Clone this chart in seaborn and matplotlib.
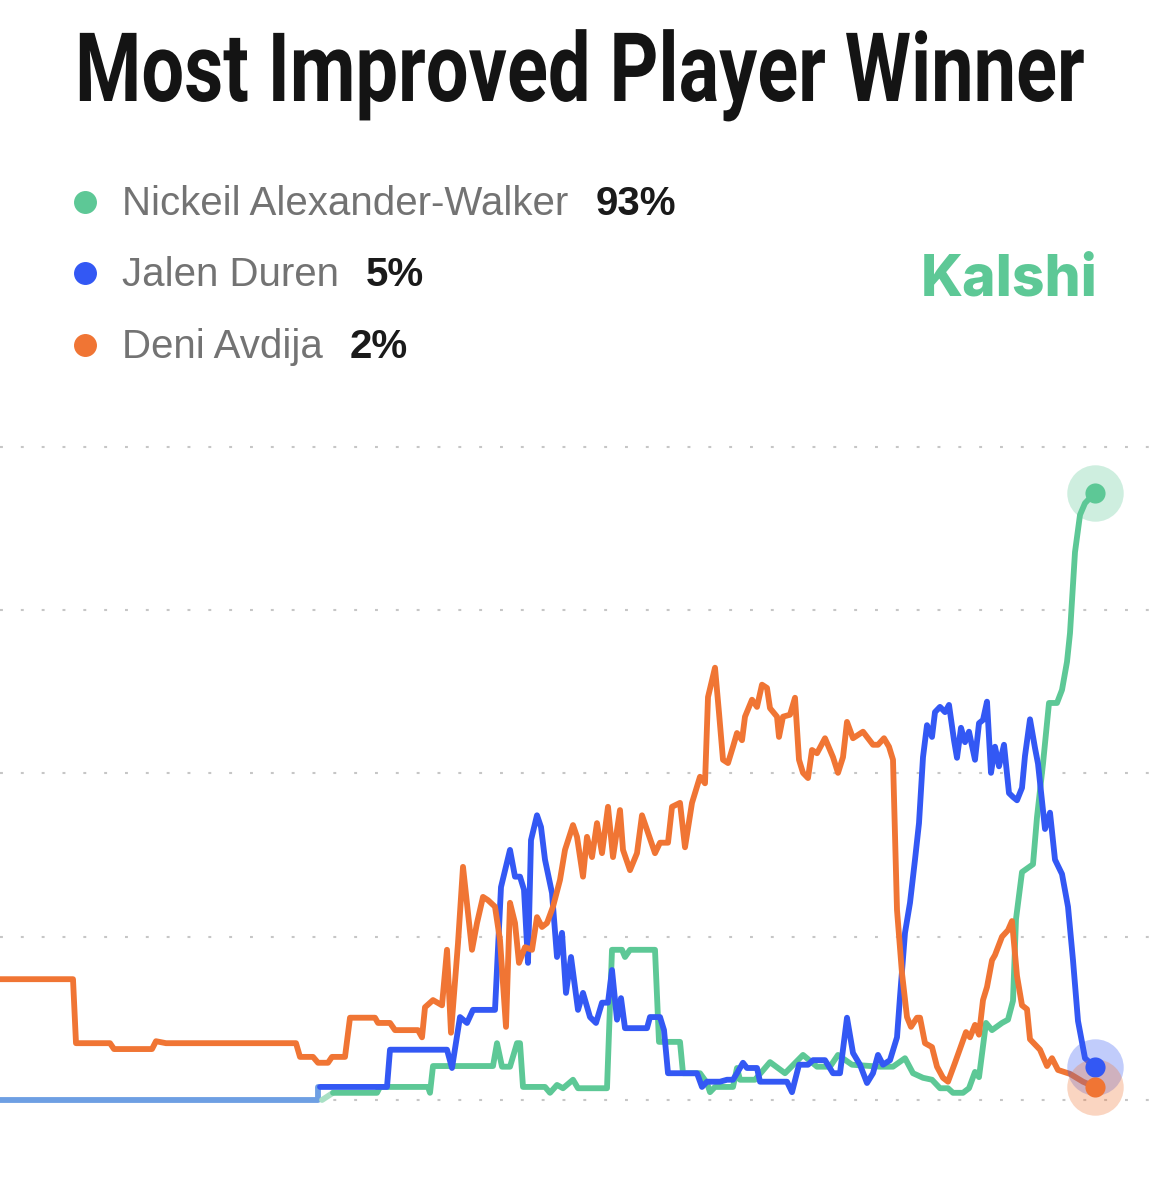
import matplotlib
matplotlib.use("Agg")
import matplotlib.pyplot as plt
import matplotlib.patheffects as pe
from matplotlib.transforms import Affine2D
import seaborn as sns
import numpy as np
import pandas as pd

# Market chart data (t = time index, values = chance in %)
players = ['Nickeil Alexander-Walker', 'Jalen Duren', 'Deni Avdija']
current_pct = ['93%', '5%', '2%']

COLORS = {
    'Nickeil Alexander-Walker': '#5DC896',
    'Jalen Duren': '#3358F4',
    'Deni Avdija': '#F07534',
}
PRE_COLOR = '#6E9FE3'
PRE_GREEN = '#A8E0C4'

# faint segment before the other two markets were listed
pre_t = [0, 63.6, 63.6]
pre_v = [0, 0, 2.0]
pre_green_t = [64.4, 66.6]
pre_green_v = [0, 1.1]

avdija_t = [0, 14.6, 15.2, 22.0, 22.8, 30.4, 31.2, 33.2, 59.2, 60.0, 62.6, 63.6, 65.6, 66.4,
            69.0, 70.0, 75.0, 75.6, 78.0, 79.0, 83.6, 84.4, 85.0, 86.6, 88.4, 89.4, 90.2,
            91.6, 92.6, 93.6, 94.4, 95.4, 96.6, 97.6, 99.0, 100.0, 101.2, 102.0, 103.0,
            103.8, 105.0, 106.4, 107.4, 108.4, 109.4, 110.6, 112.0, 113.0, 114.6, 115.4,
            116.6, 117.4, 118.4, 119.4, 120.4, 121.6, 122.6, 124.0, 124.6, 126.0, 127.4,
            128.4, 129.6, 131.0, 132.0, 133.6, 134.4, 136.0, 137.0, 138.4, 140.0, 141.0,
            141.6, 143.0, 143.8, 144.6, 145.6, 146.6, 147.4, 148.4, 149.0, 150.4, 151.4,
            152.4, 153.4, 154.0, 155.4, 155.8, 156.6, 158.0, 159.0, 159.8, 160.6, 161.6,
            162.4, 163.4, 165.0, 166.6, 167.6, 168.6, 169.4, 170.6, 172.6, 174.6, 175.6,
            176.8, 177.8, 178.6, 179.4, 180.4, 181.4, 182.2, 183.4, 184.0, 185.0, 186.4,
            187.4, 188.6, 189.6, 191.0, 192.4, 193.2, 194.0, 195.0, 195.8, 196.6, 197.4,
            198.4, 199.0, 200.4, 201.6, 202.4, 203.4, 204.4, 205.4, 206.0, 208.0, 209.4,
            210.4, 211.6, 214.0, 216.6, 219.0]
avdija_v = [18.5, 18.5, 8.7, 8.7, 7.8, 7.8, 9.0, 8.7, 8.7, 6.6, 6.6, 5.7, 5.7, 6.6,
            6.6, 12.6, 12.6, 11.8, 11.8, 10.7, 10.7, 9.6, 14.2, 15.3, 14.5, 23.0, 10.3,
            24.0, 35.7, 28.6, 23.0, 27.1, 31.1, 30.6, 29.6, 24.5, 11.2, 30.2, 27.1,
            21.0, 23.4, 23.0, 28.0, 26.5, 27.1, 29.6, 33.7, 38.3, 42.1, 40.3,
            34.2, 40.3, 37.2, 42.4, 37.8, 44.9, 37.2, 44.4, 38.3, 35.2, 37.8,
            43.6, 40.9, 37.8, 39.4, 39.4, 44.9, 45.5, 38.7, 45.5, 49.5, 48.5,
            61.7, 66.2, 59.3, 52.1, 51.6, 54.1, 56.2, 55.1, 58.7, 61.3, 60.2,
            63.6, 63.1, 60.0, 58.7, 55.6, 58.7, 59.0, 61.6, 52.1, 50.1, 49.3,
            53.6, 53.1, 55.4, 52.5, 50.1, 52.5, 57.9, 55.4, 56.4, 54.4, 54.4,
            55.4, 54.1, 52.1, 29.1, 19.4, 12.7, 11.2, 12.6, 12.6, 8.7, 8.1,
            5.1, 3.4, 2.8, 5.7, 8.7, 10.4, 9.6, 11.5, 10.0, 15.3, 17.3,
            21.4, 22.2, 25.0, 26.0, 27.4, 19.0, 14.5, 13.9, 9.3, 7.7, 5.2,
            6.4, 4.6, 4.0, 2.8, 2.0]

duren_t = [64.0, 77.4, 78.0, 89.4, 90.4, 92.0, 93.4, 94.6, 99.0, 100.2, 102.0, 103.0, 104.0,
           104.8, 105.6, 106.2, 107.4, 108.2, 109.0, 110.4, 111.4, 112.4, 113.2, 114.2,
           115.6, 116.6, 118.0, 119.2, 120.4, 121.6, 122.4, 123.4, 124.2, 125.0, 129.4,
           130.0, 132.0, 132.8, 133.6, 139.4, 140.4, 141.4, 144.0, 145.4, 146.6, 147.4,
           148.6, 149.4, 151.4, 152.0, 157.4, 158.4, 159.8, 161.6, 162.6, 165.0, 166.6,
           168.0, 169.4, 170.6, 172.0, 173.4, 174.6, 175.6, 176.6, 178.0, 179.4, 180.0,
           181.0, 182.0, 183.0, 183.8, 184.6, 185.4, 186.4, 187.0, 188.0, 189.0, 189.8,
           190.8, 191.4, 192.2, 193.0, 193.8, 195.0, 195.8, 196.6, 197.4, 198.2, 199.0,
           199.8, 200.8, 201.8, 202.6, 203.4, 204.4, 205.0, 206.0, 207.0, 207.6, 209.0,
           210.0, 211.0, 212.4, 213.6, 214.6, 215.6, 217.0, 219.0]
duren_v = [2.0, 2.0, 7.7, 7.7, 4.9, 12.7, 11.8, 13.8, 13.8, 32.6, 38.3, 34.2, 34.2,
           32.2, 21.0, 39.8, 43.6, 41.8, 36.8, 31.7, 21.9, 25.6, 16.4, 21.9,
           13.8, 16.4, 12.7, 11.8, 14.9, 14.9, 19.9, 12.3, 15.6, 11.0, 11.0,
           12.7, 12.7, 10.7, 4.1, 4.1, 2.0, 2.8, 2.8, 3.1, 3.1, 4.1,
           5.7, 4.9, 4.9, 2.8, 2.8, 1.2, 5.4, 5.4, 6.1, 6.1, 4.1,
           4.1, 12.6, 7.2, 5.4, 2.6, 4.1, 6.9, 5.4, 6.1, 9.6, 15.8,
           25.6, 30.2, 36.8, 42.4, 52.5, 57.4, 55.6, 59.4, 60.2, 59.4, 60.5,
           55.1, 52.4, 57.0, 54.8, 56.4, 52.1, 57.7, 58.2, 61.0, 50.1, 54.1,
           51.1, 54.4, 47.0, 46.4, 45.9, 47.8, 52.7, 58.3, 53.9, 51.5, 41.5,
           44.0, 36.8, 34.6, 29.6, 21.4, 12.1, 6.4, 5.0]

naw_t = [66.6, 75.4, 76.0, 85.6, 86.0, 86.6, 98.6, 99.4, 100.4, 102.0, 103.4, 104.0, 104.6,
         109.0, 110.0, 111.4, 112.6, 114.6, 115.6, 121.4, 122.4, 124.4, 125.0, 126.0,
         131.0, 131.8, 136.0, 136.6, 140.0, 141.4, 142.0, 143.0, 146.6, 147.4, 148.0,
         151.0, 154.0, 157.0, 160.6, 163.4, 166.0, 167.6, 170.4, 176.0, 178.6, 181.0,
         182.6, 184.6, 186.4, 188.0, 189.6, 190.6, 192.6, 193.8, 195.0, 195.8, 197.2,
         198.4, 200.4, 201.6, 202.6, 203.2, 204.4, 206.6, 207.4, 208.6, 209.8, 211.4,
         212.4, 213.4, 214.0, 215.0, 216.0, 217.0, 219.0]
naw_v = [1.1, 1.1, 2.0, 2.0, 1.1, 5.2, 5.2, 8.7, 5.1, 5.1, 8.7, 8.7, 2.0,
         2.0, 1.1, 2.3, 1.8, 3.1, 1.8, 1.8, 23.0, 23.0, 21.9, 23.0,
         23.0, 8.9, 8.9, 4.1, 4.1, 2.6, 1.2, 2.0, 2.0, 4.9, 3.1,
         3.1, 5.8, 4.1, 6.9, 5.1, 5.1, 6.9, 5.4, 5.1, 5.1, 6.4,
         4.1, 3.4, 3.1, 1.8, 1.8, 1.1, 1.1, 1.8, 4.3, 3.5, 11.8,
         10.7, 11.8, 12.3, 15.2, 27.7, 34.9, 36.1, 43.3, 51.5, 60.8, 60.8,
         62.8, 67.1, 71.5, 83.9, 89.6, 91.4, 93.0]

grid_levels = [0, 25, 50, 75, 100]


class Squeeze(pe.AbstractPathEffect):
    """Narrow the glyphs horizontally around x0 (no condensed font installed)."""

    def __init__(self, sx, x0):
        super().__init__()
        self.sx = sx
        self.x0 = x0

    def draw_path(self, renderer, gc, tpath, affine, rgbFace=None):
        squeeze = Affine2D().translate(-self.x0, 0).scale(self.sx, 1).translate(self.x0, 0)
        renderer.draw_path(gc, tpath, affine + squeeze, rgbFace)


sns.set_theme(style='white')
plt.rcParams['font.family'] = ['Liberation Sans', 'DejaVu Sans']
plt.rcParams['lines.solid_joinstyle'] = 'round'
plt.rcParams['lines.solid_capstyle'] = 'round'

df = pd.concat([
    pd.DataFrame({'player': players[0], 't': naw_t, 'prob': naw_v}),
    pd.DataFrame({'player': players[1], 't': duren_t, 'prob': duren_v}),
    pd.DataFrame({'player': players[2], 't': avdija_t, 'prob': avdija_v}),
], ignore_index=True)

W, H = 1170, 1191
fig = plt.figure(figsize=(W / 100, H / 100), dpi=100)
fig.patch.set_facecolor('white')

ax = fig.add_axes([0, 0.049, 1160 / W, 0.6031])
ax.set_xlim(0, 232)
ax.set_ylim(-5, 105)
ax.axis('off')

for lv in grid_levels:
    ax.axhline(lv, color='#c6c6c6', lw=1.5, linestyle=(0, (1.4, 8.6)), zorder=0)

LW = 4.2
sns.lineplot(x=pre_t, y=pre_v, color=PRE_COLOR, lw=LW, ax=ax, estimator=None, sort=False)
sns.lineplot(x=pre_green_t, y=pre_green_v, color=PRE_GREEN, lw=LW, ax=ax, estimator=None, sort=False)
sns.lineplot(data=df, x='t', y='prob', hue='player', hue_order=players, palette=COLORS,
             estimator=None, sort=False, lw=LW, legend=False, ax=ax)

# end-point markers with halo
for p in players:
    last = df[df.player == p].iloc[-1]
    ax.scatter(last.t, last.prob, s=1650, color=COLORS[p], alpha=0.3, lw=0, zorder=5)
    ax.scatter(last.t, last.prob, s=210, color=COLORS[p], lw=0, zorder=6)

fig.canvas.draw()
renderer = fig.canvas.get_renderer()

# title: bold face, squeezed to the condensed look of the original
title = fig.text(75 / W, 1 - 101 / H, 'Most Improved Player Winner', fontsize=69,
                 fontweight='bold', color='#141414', va='baseline', ha='left',
                 family=['Roboto', 'Liberation Sans', 'DejaVu Sans'])
tb = title.get_window_extent(renderer)
title.set_path_effects([Squeeze(1010 / tb.width, tb.x0)])

# legend
rows_y = [215, 286, 358]
for p, pct, yb in zip(players, current_pct, rows_y):
    fig.lines.append(plt.Line2D([85 / W], [1 - (yb - 13) / H], marker='o', markersize=15.5,
                                color=COLORS[p], lw=0, transform=fig.transFigure))
    t = fig.text(122 / W, 1 - yb / H, p, fontsize=29, color='#737373', va='baseline', ha='left')
    bb = t.get_window_extent(renderer)
    fig.text((bb.x1 + 27) / W, 1 - yb / H, pct, fontsize=29, fontweight='bold',
             color='#1a1a1a', va='baseline', ha='left')

fig.text(1097 / W, 1 - 295 / H, 'Kalshi', fontsize=41, fontweight='heavy', color='#5DC896',
         va='baseline', ha='right', family=['Inter', 'Liberation Sans'])

fig.savefig('out.png', dpi=100, facecolor='white')
